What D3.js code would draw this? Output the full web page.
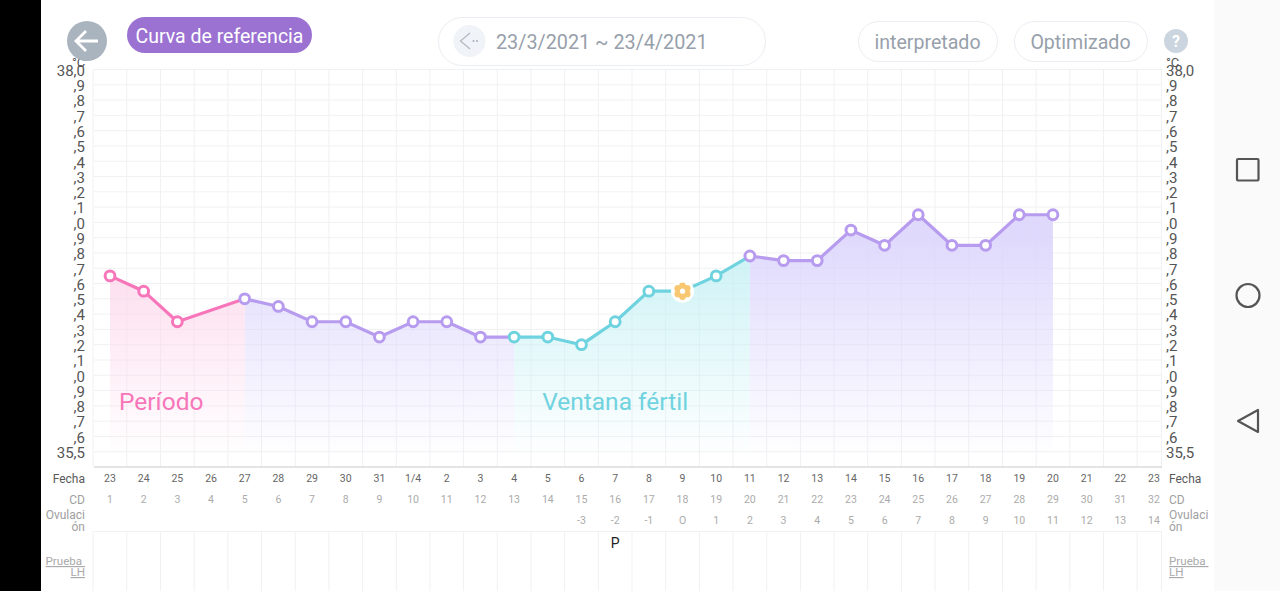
<!DOCTYPE html>
<html><head><meta charset="utf-8">
<script src="https://cdnjs.cloudflare.com/ajax/libs/d3/7.8.5/d3.min.js"></script>
<style>html,body{margin:0;padding:0;background:#fff;overflow:hidden}svg{display:block;font-family:Roboto,sans-serif;opacity:.999}</style>
</head><body><svg id="c" width="1280" height="591"></svg>
<script>
const dates=["23","24","25","26","27","28","29","30","31","1/4","2","3","4","5","6","7","8","9","10","11","12","13","14","15","16","17","18","19","20","21","22","23"];
const cycleDays=[1,2,3,4,5,6,7,8,9,10,11,12,13,14,15,16,17,18,19,20,21,22,23,24,25,26,27,28,29,30,31,32];
const ovulation=["","","","","","","","","","","","","","","-3","-2","-1","O","1","2","3","4","5","6","7","8","9","10","11","12","13","14"];
const lhTest=["","","","","","","","","","","","","","","","P"];
const temps=[36.65,36.55,36.35,null,36.5,36.45,36.35,36.35,36.25,36.35,36.35,36.25,36.25,36.25,36.2,36.35,36.55,36.55,36.65,36.78,36.75,36.75,36.95,36.85,37.05,36.85,36.85,37.05,37.05,null,null,null];
const yTicks=[38,37.9,37.8,37.7,37.6,37.5,37.4,37.3,37.2,37.1,37,36.9,36.8,36.7,36.6,36.5,36.4,36.3,36.2,36.1,36,35.9,35.8,35.7,35.6,35.5];
const phases=[["Período",0,4,"#f776ba","#fcd5ea"],["",4,12,"#b79bef","#dcd5fc"],["Ventana fértil",12,19,"#6fd3df","#c4f0f4"],["",19,28,"#b79bef","#dcd5fc"]];
const ovulationDay=17;

const svg=d3.select("#c");
const x=d3.scaleLinear().domain([0,31]).range([110,1154]);
const y=d3.scaleLinear().domain([35.4,38]).range([467,69.5]);
const pts=temps.map((t,i)=>({i,t})).filter(d=>d.t!==null);
const gridColor="#f0f1f3";

// page background
svg.append("rect").attr("width",1280).attr("height",591).attr("fill","#fff");
svg.append("rect").attr("width",41).attr("height",591).attr("fill","#000");
svg.append("rect").attr("x",1214).attr("width",66).attr("height",591).attr("fill","#fafafa");

// grid
const colEdges=d3.range(0,32).map(i=>i-0.5);
const g=svg.append("g");
g.selectAll(".h").data(yTicks).join("line").attr("x1",94).attr("x2",1162)
 .attr("y1",d=>y(d)).attr("y2",d=>y(d)).attr("stroke",gridColor);
[[69.5,467],[531,591]].forEach(([a,b])=>{
  g.append("g").selectAll("line").data(colEdges).join("line")
   .attr("x1",d=>x(d)).attr("x2",d=>x(d)).attr("y1",a).attr("y2",b).attr("stroke",gridColor);
  g.append("line").attr("x1",1161.5).attr("x2",1161.5).attr("y1",a).attr("y2",b).attr("stroke",gridColor);
});
g.append("line").attr("x1",94).attr("x2",1162).attr("y1",467).attr("y2",467).attr("stroke","#c9c9c9");
g.append("line").attr("x1",94).attr("x2",1162).attr("y1",531.5).attr("y2",531.5).attr("stroke",gridColor);

// phase areas
const defs=svg.append("defs");
const bottomY=y(35.5);
const line=d3.line().x(d=>x(d.i)).y(d=>y(d.t));
phases.forEach((p,k)=>{
  const id="grad"+k;
  const gr=defs.append("linearGradient").attr("id",id).attr("gradientUnits","userSpaceOnUse")
    .attr("x1",0).attr("x2",0).attr("y1",y(36.9)).attr("y2",bottomY);
  gr.append("stop").attr("offset",0).attr("stop-color",p[4]).attr("stop-opacity",1);
  gr.append("stop").attr("offset",1).attr("stop-color",p[4]).attr("stop-opacity",0.03);
  const seg=pts.filter(d=>d.i>=p[1]&&d.i<=p[2]);
  svg.append("path").datum(seg).attr("fill","url(#"+id+")").attr("opacity",0.9)
    .attr("d",d3.area().x(d=>x(d.i)).y0(bottomY).y1(d=>y(d.t)));
});
phases.forEach(p=>{
  const seg=pts.filter(d=>d.i>=p[1]&&d.i<=p[2]);
  svg.append("path").datum(seg).attr("fill","none").attr("stroke",p[3]).attr("stroke-width",3.2).attr("d",line);
});
// markers
const colorOf=i=>{const p=phases.find(p=>i>=p[1]&&i<p[2])||phases[3];return p[3]};
svg.selectAll(".m").data(pts.filter(d=>d.i!==ovulationDay)).join("circle")
 .attr("cx",d=>x(d.i)).attr("cy",d=>y(d.t)).attr("r",4.9).attr("fill","#fff")
 .attr("stroke",d=>colorOf(d.i)).attr("stroke-width",3);
// ovulation flower
const fl=svg.append("g").attr("transform",`translate(${x(ovulationDay)},${y(temps[ovulationDay])})`);
fl.append("circle").attr("r",11.5).attr("fill","#fff");
d3.range(6).forEach(k=>{
  const a=k*Math.PI/3-Math.PI/2;
  fl.append("circle").attr("cx",5.4*Math.cos(a)).attr("cy",5.4*Math.sin(a)).attr("r",3.4).attr("fill","#f8c771");
});
fl.append("circle").attr("r",5).attr("fill","#f8c771");
fl.append("circle").attr("r",2.6).attr("fill","#fff");

// phase labels
svg.append("text").attr("x",119).attr("y",410).attr("font-size",24.5).attr("fill","#f776ba").text(phases[0][0]);
svg.append("text").attr("x",x(15)).attr("y",410).attr("text-anchor","middle").attr("font-size",24.5).attr("fill","#6fd3df").text(phases[2][0]);

// temperature axes
const fmt=d=>(d===38||d===35.5)?d.toFixed(1).replace(".",","):","+Math.round((d*10)%10);
const styleAxis=a=>{a.select(".domain").remove();a.selectAll(".tick line").remove();
  a.selectAll("text").attr("font-size",15).attr("fill","#555").attr("font-family","Roboto,sans-serif").attr("y",1);};
svg.append("g").attr("transform","translate(85,0)").call(d3.axisLeft(y).tickValues(yTicks).tickFormat(fmt).tickSize(0).tickPadding(0)).call(styleAxis);
svg.append("g").attr("transform","translate(1166,0)").call(d3.axisRight(y).tickValues(yTicks).tickFormat(fmt).tickSize(0).tickPadding(0)).call(styleAxis);
[72,1166].forEach(px=>svg.append("text").attr("x",px).attr("y",67).attr("font-size",13).attr("fill","#555").text("°C"));

// rows
const row=(arr,yy,col,size)=>svg.append("g").selectAll("text").data(arr).join("text")
 .attr("x",(d,i)=>x(i)).attr("y",yy).attr("text-anchor","middle").attr("font-size",size||10.5).attr("fill",col).text(d=>d);
row(dates,482,"#666");
row(cycleDays,503,"#ababab");
row(ovulation,524,"#ababab");
row(lhTest,548,"#222",14);
const side=(t,yy,col,px,anchor,ul,fs)=>svg.append("text").attr("x",px).attr("y",yy).attr("text-anchor",anchor).attr("font-size",fs||12).attr("fill",col).attr("text-decoration",ul?"underline":null).text(t);
[[85,"end"],[1169,"start"]].forEach(([px,an])=>{
  side("Fecha",482.5,"#5a5a5a",px,an);
  side("CD",503.5,"#a0a0a0",px,an);
  side("Ovulaci",519,"#a0a0a0",px,an);
  side("ón",531,"#a0a0a0",px,an);
  side("Prueba\u00a0",565,"#aaa",px,an,true,11.6);
  side("LH",576,"#aaa",px,an,true,11.6);
});

// header controls
svg.append("circle").attr("cx",87).attr("cy",41).attr("r",20).attr("fill","#aab4bf");
svg.append("path").attr("d","M76 41H98M86 31L76 41L86 51").attr("fill","none").attr("stroke","#fff").attr("stroke-width",2.8);
svg.append("rect").attr("x",127).attr("y",17).attr("width",185).attr("height",36).attr("rx",18).attr("fill","#9b72d2");
svg.append("text").attr("x",219.5).attr("y",43).attr("text-anchor","middle").attr("font-size",19.5).attr("fill","#fff").text("Curva de referencia");
const pill=(a,b,t,h)=>{
  svg.append("rect").attr("x",a+.5).attr("y",t+.5).attr("width",b-a).attr("height",h).attr("rx",h/2).attr("fill","#fff").attr("stroke","#eaeef2");
};
pill(438,765,17,48);
svg.append("circle").attr("cx",469.5).attr("cy",41).attr("r",16).attr("fill","#f0f3f7");
svg.append("path").attr("d","M470 33L460.5 41L470 49").attr("fill","none").attr("stroke","#b3bac4").attr("stroke-width",1.3);
svg.append("circle").attr("cx",473.5).attr("cy",41).attr("r",1).attr("fill","#a7afba");
svg.append("circle").attr("cx",477).attr("cy",41).attr("r",1).attr("fill","#a7afba");
svg.append("text").attr("x",496).attr("y",49).attr("font-size",19.8).attr("fill","#97a0ab").text("23/3/2021 ~ 23/4/2021");
pill(858,997,21,40);
svg.append("text").attr("x",927.5).attr("y",49).attr("text-anchor","middle").attr("font-size",19.6).attr("fill","#97a0ab").text("interpretado");
pill(1014,1147,21,40);
svg.append("text").attr("x",1080.5).attr("y",49).attr("text-anchor","middle").attr("font-size",19.6).attr("fill","#97a0ab").text("Optimizado");
svg.append("circle").attr("cx",1176).attr("cy",41).attr("r",12).attr("fill","#cbd5e0");
svg.append("text").attr("x",1176).attr("y",47).attr("text-anchor","middle").attr("font-size",16).attr("font-weight",700).attr("fill","#fff").text("?");

// nav bar icons
svg.append("rect").attr("x",1237).attr("y",159).attr("width",21.5).attr("height",21.5).attr("rx",1).attr("fill","none").attr("stroke","#555").attr("stroke-width",2.2);
svg.append("circle").attr("cx",1248).attr("cy",295.5).attr("r",11.5).attr("fill","none").attr("stroke","#555").attr("stroke-width",2.2);
svg.append("path").attr("d","M1238 421L1258 410V432Z").attr("fill","none").attr("stroke","#555").attr("stroke-width",2.2).attr("stroke-linejoin","round");
</script></body></html>
